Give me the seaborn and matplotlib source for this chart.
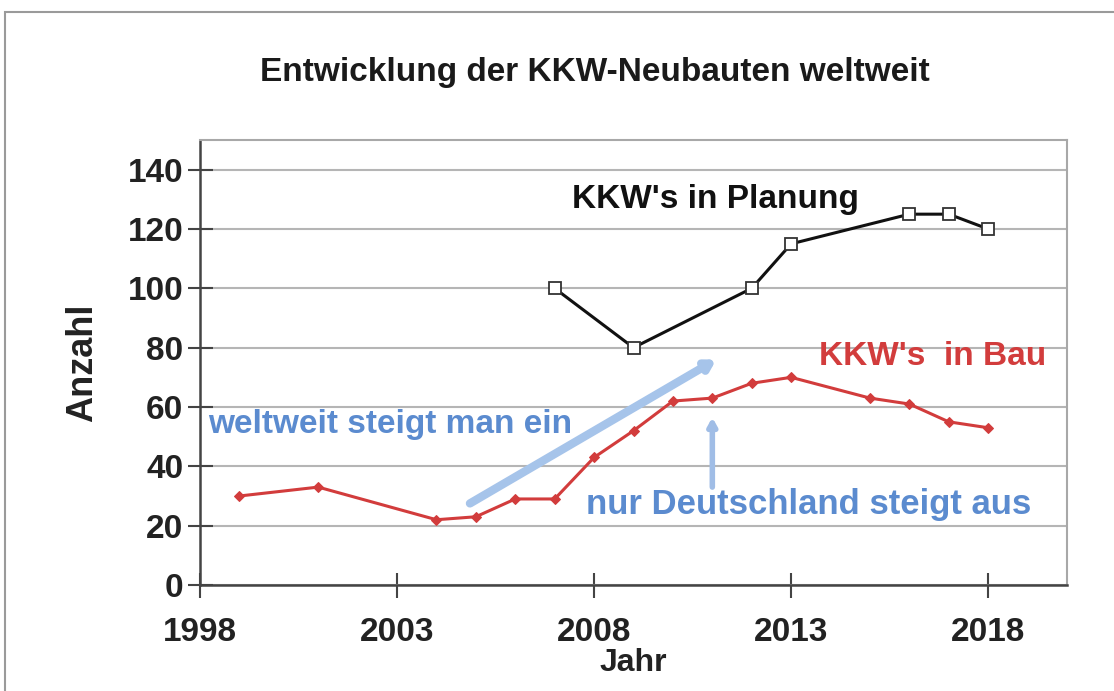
import seaborn as sns
import matplotlib.pyplot as plt
import pandas as pd
from matplotlib.patches import Rectangle

# Data
bau_jahre = [1999, 2001, 2004, 2005, 2006, 2007, 2008, 2009, 2010, 2011, 2012, 2013, 2015, 2016, 2017, 2018]
bau_anzahl = [30, 33, 22, 23, 29, 29, 43, 52, 62, 63, 68, 70, 63, 61, 55, 53]
plan_jahre = [2007, 2009, 2012, 2013, 2016, 2017, 2018]
plan_anzahl = [100, 80, 100, 115, 125, 125, 120]

df_bau = pd.DataFrame({'Jahr': bau_jahre, 'Anzahl': bau_anzahl})
df_plan = pd.DataFrame({'Jahr': plan_jahre, 'Anzahl': plan_anzahl})

sns.set_style('white')
plt.rcParams['font.family'] = ['Liberation Sans', 'DejaVu Sans']

fig = plt.figure(figsize=(11.14, 6.91), dpi=100)
ax = fig.add_axes([200 / 1114, 1 - 585 / 691, 867 / 1114, 445 / 691])

# outer frame of the scanned chart
fig.patches.append(Rectangle((5 / 1114, -0.1), 1.2, 1 - 12 / 691 + 0.1, transform=fig.transFigure,
                             fill=False, edgecolor='#9a9a9a', linewidth=1.5))

sns.lineplot(data=df_bau, x='Jahr', y='Anzahl', ax=ax, color='#d23c3c', linewidth=2.2,
             marker='D', markersize=5.5, markeredgecolor='#d23c3c')
sns.lineplot(data=df_plan, x='Jahr', y='Anzahl', ax=ax, color='#111111', linewidth=2.2,
             marker='s', markersize=8.5, markerfacecolor='white', markeredgecolor='#333333',
             markeredgewidth=1.3)

ax.set_xlim(1998, 2020)
ax.set_ylim(0, 150)
ax.set_xticks([1998, 2003, 2008, 2013, 2018])
ax.set_yticks(range(0, 141, 20))
ax.yaxis.grid(True, color='#b5b5b5', linewidth=1.5)
ax.set_axisbelow(True)

for side in ['left', 'bottom']:
    ax.spines[side].set_color('#444444')
    ax.spines[side].set_linewidth(1.8)
for side in ['top', 'right']:
    ax.spines[side].set_color('#a8a8a8')
    ax.spines[side].set_linewidth(1.5)

ax.tick_params(axis='both', direction='inout', length=18, width=1.5, color='#444444',
               labelsize=24, bottom=True, left=True)
ax.tick_params(axis='y', pad=3)
ax.tick_params(axis='x', pad=14)
for lab in ax.get_xticklabels() + ax.get_yticklabels():
    lab.set_fontweight('bold')
    lab.set_color('#222222')
ax.set_xlabel('Jahr', fontsize=23, fontweight='bold', color='#222222', labelpad=0)
ax.set_ylabel('Anzahl', fontsize=26, fontweight='bold', color='#222222', labelpad=20)

fig.text(595 / 1114, 1 - 72 / 691, 'Entwicklung der KKW-Neubauten weltweit', ha='center', va='center',
         fontsize=24, fontweight='bold', color='#1a1a1a')

# annotations
ax.text(2007.45, 130, "KKW's in Planung", fontsize=24, fontweight='bold', color='#111111', va='center')
ax.text(2013.7, 77, "KKW's  in Bau", fontsize=24, fontweight='bold', color='#d23c3c', va='center')
ax.text(1998.2, 54, 'weltweit steigt man ein', fontsize=24, fontweight='bold', color='#5b8bcf', va='center')
ax.text(2007.8, 27, 'nur Deutschland steigt aus', fontsize=25, fontweight='bold', color='#5b8bcf', va='center')

ax.annotate('', xy=(2011.1, 76), xytext=(2004.85, 27.5),
            arrowprops=dict(arrowstyle='-|>,head_length=0.5,head_width=0.3', color='#a6c4ea', lw=6,
                            shrinkA=0, shrinkB=0))
ax.annotate('', xy=(2011.0, 56.5), xytext=(2011.0, 33),
            arrowprops=dict(arrowstyle='-|>,head_length=0.45,head_width=0.25', color='#a0bde6', lw=4,
                            shrinkA=0, shrinkB=0))

fig.savefig('out.png', dpi=100)
